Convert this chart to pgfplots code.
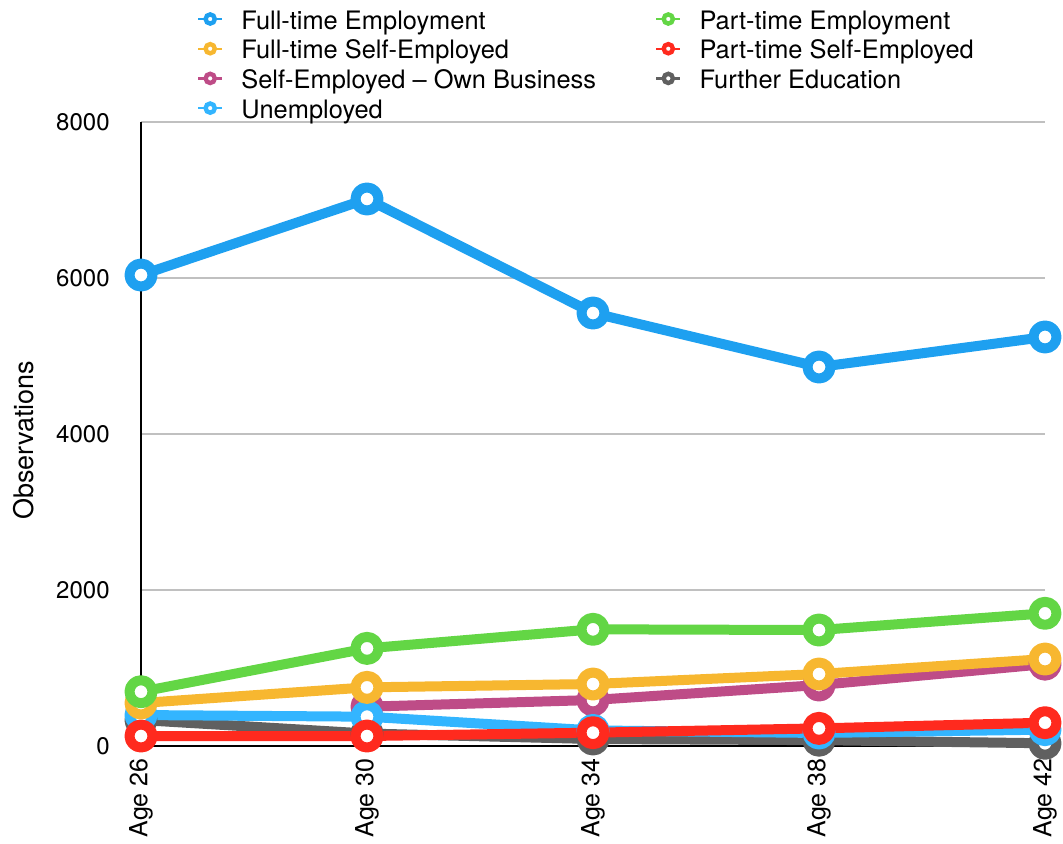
\documentclass[border=0pt]{standalone}
\usepackage{fontspec}
\setmainfont{TeX Gyre Heros}
\usepackage{pgfplots}
\pgfplotsset{compat=1.18}

\definecolor{cFTE}{RGB}{30,160,240}
\definecolor{cPTE}{RGB}{99,214,69}
\definecolor{cFTSE}{RGB}{247,183,48}
\definecolor{cPTSE}{RGB}{255,42,30}
\definecolor{cSEOB}{RGB}{190,76,135}
\definecolor{cFE}{RGB}{96,96,96}
\definecolor{cUNE}{RGB}{51,181,255}
\definecolor{gridgray}{RGB}{192,192,192}

\pgfplotsset{
  ser/.style={line width=5pt, line join=round, mark=*, mark size=5.75pt,
    mark options={solid, fill=white}, forget plot},
}

\begin{document}
\begin{tikzpicture}
\begin{axis}[
  at={(0,0)}, anchor=south west,
  scale only axis, width=452pt, height=312pt,
  xmin=0, xmax=4, ymin=0, ymax=8000,
  clip=false,
  axis x line*=bottom, axis y line*=left,
  axis line style={-, black, line width=1pt},
  xtick={0,1,2,3,4},
  xticklabels={Age 26,Age 30,Age 34,Age 38,Age 42},
  ytick={0,2000,4000,6000,8000},
  major tick length=0pt,
  ymajorgrids,
  grid style={line width=1pt, color=gridgray},
  scaled y ticks=false,
  /pgf/number format/assume math mode=true,
  /pgf/number format/1000 sep={},
  yticklabel style={font=\fontsize{12}{14}\selectfont, inner sep=0pt, anchor=east, xshift=-15.5pt},
  xticklabel style={font=\fontsize{12.5}{14}\selectfont, rotate=90, anchor=east, inner sep=0pt},
  xticklabel shift=6pt,
  ylabel={Observations},
  ylabel style={font=\fontsize{13.5}{16}\selectfont, at={([xshift=-58.5pt]axis description cs:0,0.49)}, anchor=center, inner sep=0pt},
  legend columns=2,
  legend cell align=left,
  legend style={draw=none, fill=none, inner sep=0pt, outer sep=0pt,
    at={([xshift=28pt,yshift=58.5pt]axis description cs:0,1)}, anchor=north west,
    font=\fontsize{12.7}{14}\selectfont,
    nodes={inner sep=0pt, text height=12pt, text depth=2pt},
    column sep=9pt, row sep=0.85pt,
    /tikz/every even column/.append style={column sep=29.5pt}},
  legend image code/.code={
    \draw[line width=1.2pt] (0pt,0pt) -- (12pt,0pt);
    \draw[line width=2.2pt, fill=white] (6pt,0pt) circle (2.3pt);
  },
]

% series, drawn from the back to the front
\addplot[ser, cFE]   coordinates {(0,333) (1,160) (2,90) (3,75) (4,35)};
\addplot[ser, cSEOB] coordinates {(1,504) (2,590) (3,782) (4,1050)};
\addplot[ser, cUNE]  coordinates {(0,397) (1,376) (2,200) (3,167) (4,210)};
\addplot[ser, cPTSE] coordinates {(0,128) (1,128) (2,171) (3,226) (4,299)};
\addplot[ser, cFTSE] coordinates {(0,551) (1,752) (2,795) (3,923) (4,1115)};
\addplot[ser, cPTE]  coordinates {(0,696) (1,1252) (2,1496) (3,1487) (4,1701)};
\addplot[ser, cFTE]  coordinates {(0,6038) (1,7013) (2,5551) (3,4859) (4,5244)};

% legend, two columns
\addlegendimage{cFTE}  \addlegendentry{Full-time Employment}
\addlegendimage{cPTE}  \addlegendentry{Part-time Employment}
\addlegendimage{cFTSE} \addlegendentry{Full-time Self-Employed}
\addlegendimage{cPTSE} \addlegendentry{Part-time Self-Employed}
\addlegendimage{cSEOB} \addlegendentry{Self-Employed – Own Business}
\addlegendimage{cFE}   \addlegendentry{Further Education}
\addlegendimage{cUNE}  \addlegendentry{Unemployed}
\end{axis}
\pgfresetboundingbox
\path (-70.5pt,-48.5pt) rectangle (461pt,373pt);
\end{tikzpicture}
\end{document}
